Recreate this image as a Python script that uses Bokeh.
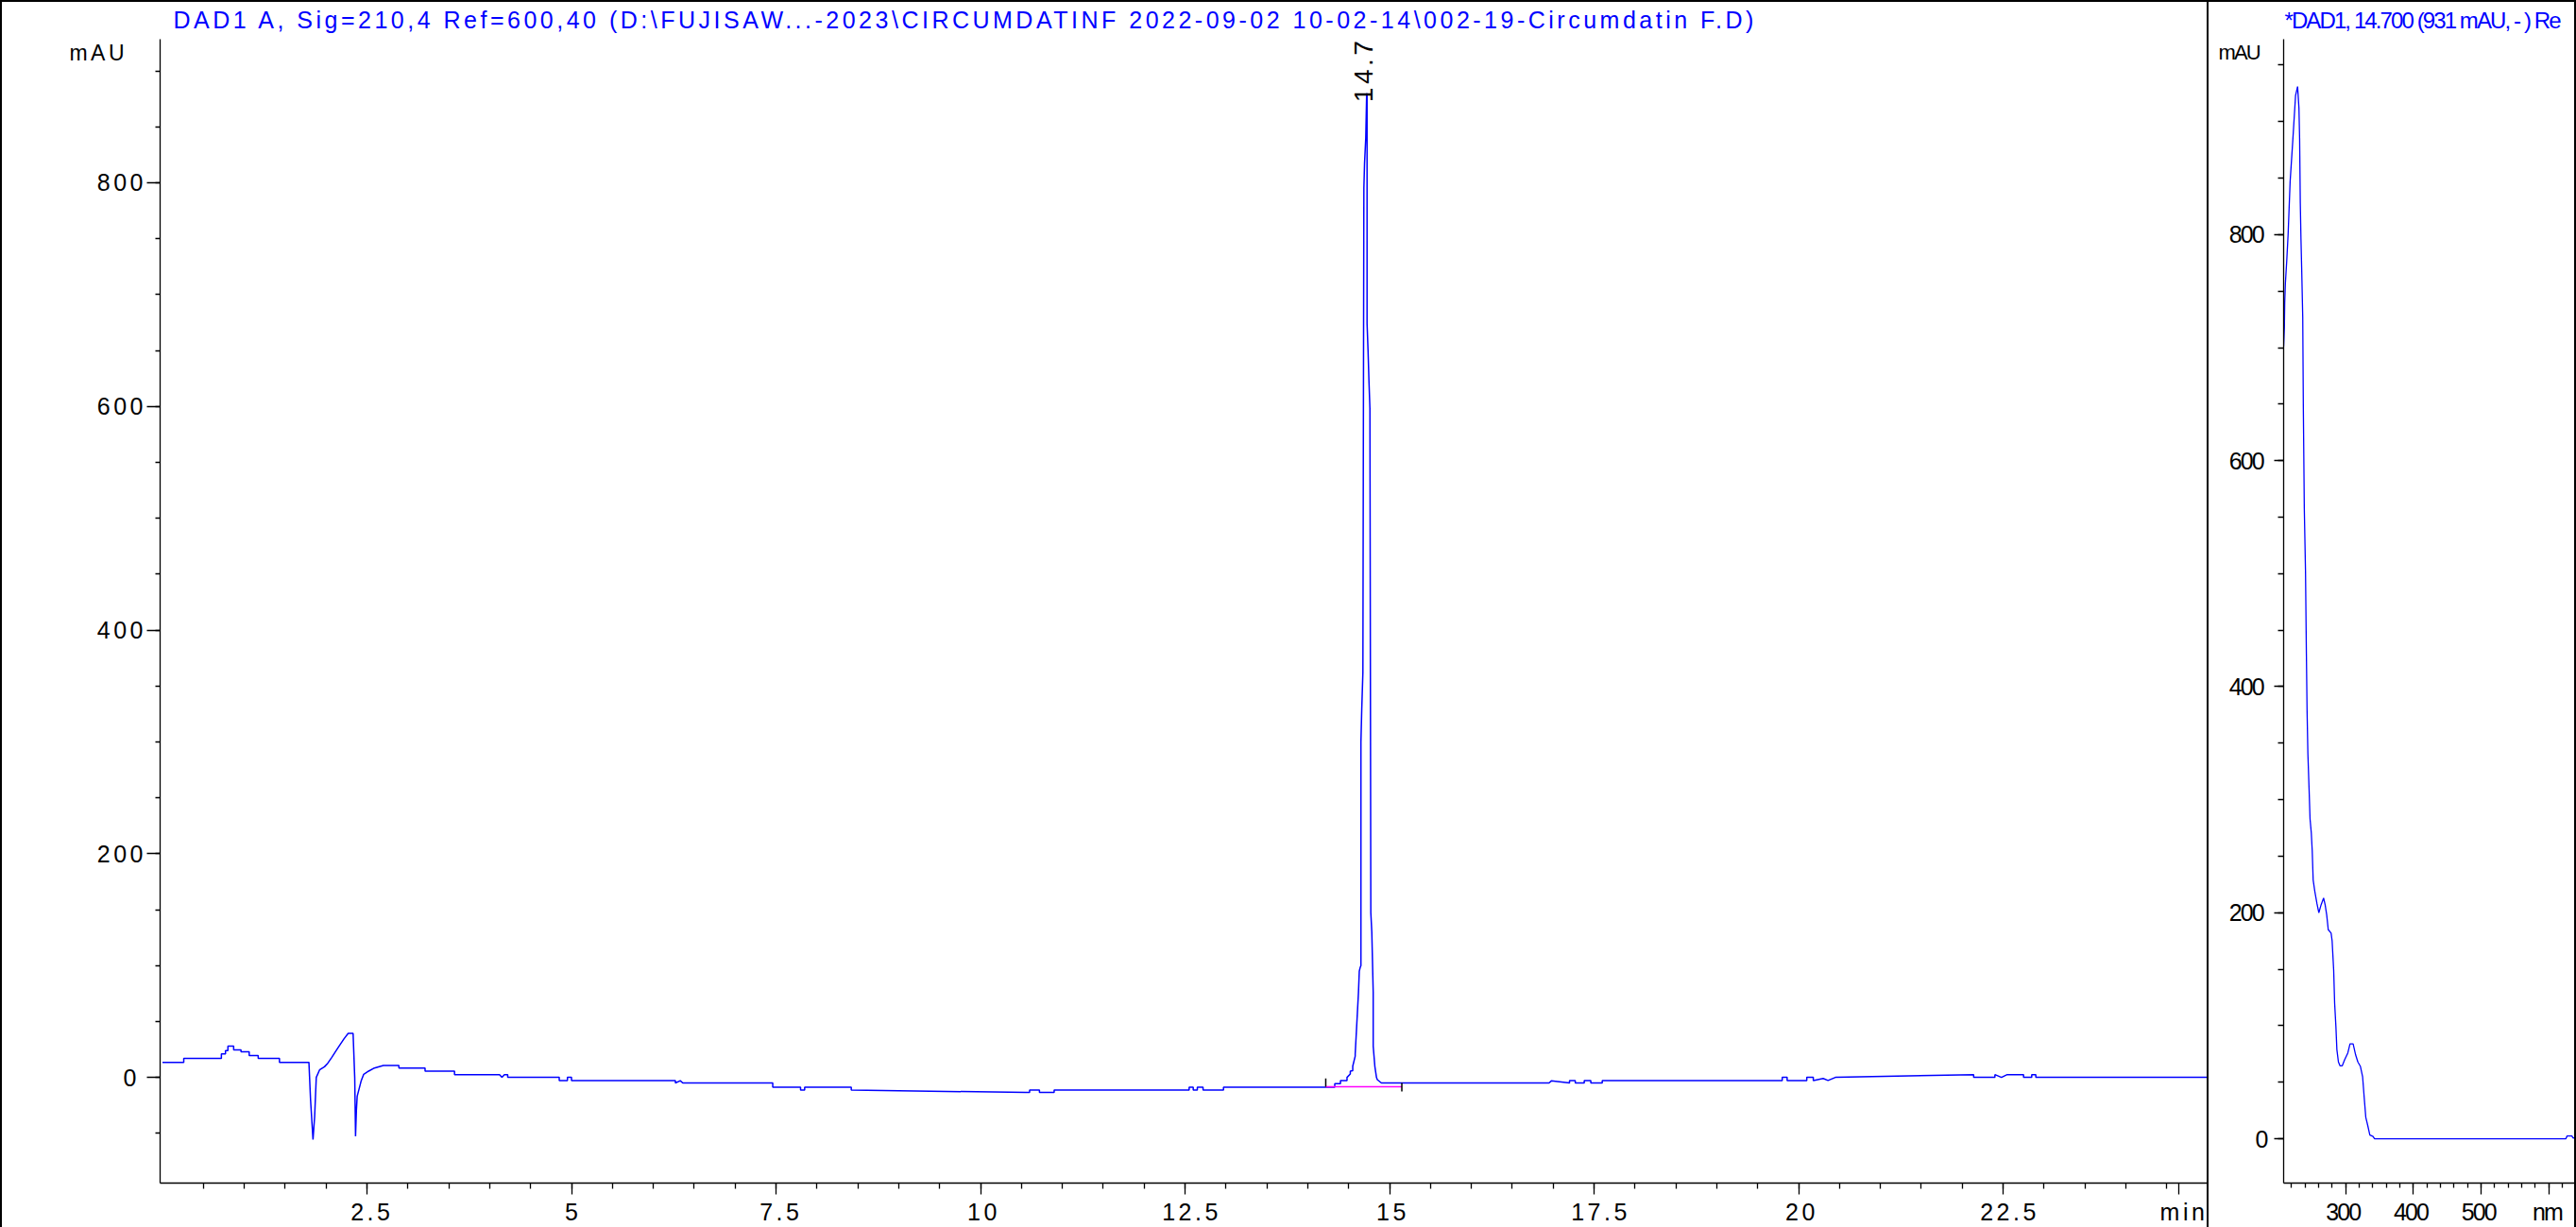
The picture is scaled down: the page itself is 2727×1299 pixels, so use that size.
import math
from bokeh.plotting import figure
from bokeh.models import FixedTicker, CustomJSTickFormatter, Title, LinearAxis, Spacer
from bokeh.layouts import row, column
from bokeh.embed import file_html
from bokeh.resources import INLINE
from bokeh.core.properties import value

# ---------------- data: chromatogram (DAD1 A, 210 nm) ----------------
chrom_time = [0.00, 0.26, 0.26, 0.72, 0.72, 0.77, 0.77, 0.80, 0.80, 0.87, 0.87, 0.96, 0.96,
              1.06, 1.06, 1.17, 1.17, 1.43, 1.43, 1.79, 1.81, 1.84, 1.86, 1.88, 1.92, 1.98,
              2.02, 2.07, 2.12, 2.16, 2.22, 2.27, 2.33, 2.35, 2.36, 2.37, 2.38, 2.43, 2.46,
              2.52, 2.59, 2.70, 2.89, 2.89, 3.21, 3.21, 3.57, 3.57, 4.12, 4.15, 4.18, 4.22,
              4.22, 4.85, 4.85, 4.95, 4.95, 5.00, 5.00, 6.27, 6.27, 6.33, 6.36, 6.40, 7.46,
              7.46, 7.80, 7.80, 7.85, 7.85, 8.42, 8.42, 10.55, 10.60, 10.60, 10.72, 10.72,
              10.90, 10.90, 12.55, 12.55, 12.60, 12.60, 12.65, 12.65, 12.72, 12.72, 12.97,
              12.97, 14.33, 14.33, 14.40, 14.40, 14.48, 14.48, 14.52, 14.52, 14.55, 14.55,
              14.58, 14.58, 14.62, 14.63, 14.64, 14.65, 14.65, 14.66, 14.674, 14.686, 14.694,
              14.709, 14.72, 14.725, 14.725, 14.737, 14.748, 14.76, 14.771, 14.783, 14.80,
              14.80, 14.82, 14.84, 14.85, 14.90, 16.95, 16.98, 17.20, 17.20, 17.27, 17.27,
              17.38, 17.38, 17.46, 17.46, 17.60, 17.60, 19.80, 19.80, 19.86, 19.86, 20.10,
              20.10, 20.18, 20.18, 20.30, 20.36, 20.45, 20.45, 22.14, 22.14, 22.40, 22.40,
              22.48, 22.55, 22.75, 22.75, 22.85, 22.85, 22.90, 22.90, 25.00]
chrom_mau = [13.5, 13.5, 17.0, 17.0, 21.0, 21.0, 24.0, 24.0, 28.0, 28.0, 24.5, 24.5, 23.0,
             23.0, 19.6, 19.6, 17.0, 17.0, 13.5, 13.5, -20.0, -55.6, -35.0, 0.0, 6.7, 9.5,
             12.6, 18.0, 23.6, 28.0, 34.6, 39.4, 39.4, 0.0, -52.6, -30.0, -16.9, -2.8, 2.8,
             5.6, 8.4, 10.7, 10.7, 8.4, 8.4, 5.6, 5.6, 2.5, 2.5, 0.0, 2.5, 2.5,
             0.0, 0.0, -2.8, -2.8, 0.0, 0.0, -2.8, -2.8, -5.0, -3.0, -5.0, -5.0, -5.0,
             -8.7, -8.7, -11.3, -11.3, -8.7, -8.7, -11.3, -13.5, -13.5, -11.3, -11.3, -13.5,
             -13.5, -11.3, -11.3, -8.7, -8.7, -11.3, -11.3, -8.7, -8.7, -11.3,
             -11.3, -8.7, -8.7, -5.6, -5.6, -2.8, -2.8, 0.0, 3.0, 5.6, 6.0, 10.0,
             19.0, 21.0, 76.0, 95.0, 98.0, 100.0, 300.0, 329.0, 362.0, 795.0, 817.0,
             840.0, 880.0, 878.0, 674.0, 650.0, 623.0, 598.0, 147.0, 130.0, 76.0,
             28.0, 10.0, 0.0, -2.0, -5.0, -5.0, -3.0, -5.0, -2.8, -2.8, -5.0,
             -5.0, -2.8, -2.8, -5.0, -5.0, -2.8, -2.8, 0.0, 0.0, -2.8, -2.8,
             0.0, 0.0, -2.8, -1.0, -2.8, 0.0, 0.0, 2.5, 0.0, 0.0, 2.5,
             0.0, 2.5, 2.5, 0.0, 0.0, 2.5, 2.5, 0.0, 0.0, 2.5, 2.5]

peak_time = [14.68]
peak_label_mau = [872.0]
peak_labels = ["14.7"]

# integration baseline (start / end of the peak)
base_time = [14.22, 15.15]
base_mau = [-8.4, -8.4]
tick_mark_time = [14.22, 15.15]
tick_mark_from = [-8.4, -5.0]
tick_mark_to = [-1.0, -12.6]

# ---------------- data: UV spectrum at 14.700 min ----------------
spec_nm = [208.4, 209.5, 210, 211, 213, 215, 218, 222, 226, 229, 231, 232, 233, 234, 235,
           236.6, 237.5, 238.9, 240.7, 242, 243, 244.2, 246, 247.4, 249.2, 250.6, 252,
           254.4, 257.6, 260.4, 263.7, 267.4, 269.7, 272, 274.3, 278.5, 280, 282.3, 283.7,
           285.6, 287, 289.3, 291.6, 295, 298.6, 303.2, 306.4, 311, 314.8, 318, 321.8,
           325, 327.3, 329.7, 332.5, 335.7, 340.4, 342.7, 625, 627, 634, 636, 640]
spec_mau = [701, 718, 740, 757, 777, 800, 847, 884, 923, 931, 912, 885, 828, 796, 771,
            727, 646, 558, 502, 429, 379, 341, 309, 283, 271, 255, 229,
            219, 208, 200, 207, 213, 207, 198, 185, 182, 175, 149, 120,
            99, 79, 68, 64.6, 64.6, 70, 76, 84, 84, 74, 68, 64,
            55, 37, 19, 12, 3.3, 2, 0, 0, 2.5, 2.5, 0.5, 2]

main_title = "DAD1 A, Sig=210,4 Ref=600,40 (D:\\FUJISAW...-2023\\CIRCUMDATINF 2022-09-02 10-02-14\\002-19-Circumdatin F.D)"
spec_title = "*DAD1, 14.700 (931 mAU, - ) Re"

time_major = [2.5, 5, 7.5, 10, 12.5, 15, 17.5, 20, 22.5, 24.65]
time_minor = [0.5 * i for i in range(1, 50)]
mau_major = [0, 200, 400, 600, 800]
mau_minor = [-100 + 50 * i for i in range(21)]
nm_major = [300, 400, 500, 600]
nm_minor = [220 + 20 * i for i in range(21)]
spec_mau_minor = [-50 + 50 * i for i in range(21)]
main_unit_pos = [916]
spec_unit_pos = [961]

BLUE = "#0000ff"
FONT = "Liberation Sans"
BLACK_BOX = {"background-color": "black"}


def style_axes(p, size, xmaj_out, xmin_out, ymaj_out, ymin_out, xstand, ystand):
    for ax in (p.xaxis[0], p.yaxis[0]):
        ax.axis_line_color = "black"
        ax.axis_line_width = 1.3
        ax.major_tick_line_color = "black"
        ax.minor_tick_line_color = "black"
        ax.major_tick_line_width = 1.3
        ax.minor_tick_line_width = 1.3
        ax.major_tick_in = 0
        ax.minor_tick_in = 0
        ax.major_label_text_font = FONT
        ax.major_label_text_font_size = size
        ax.major_label_text_color = "black"
    p.xaxis[0].major_tick_out = xmaj_out
    p.xaxis[0].minor_tick_out = xmin_out
    p.yaxis[0].major_tick_out = ymaj_out
    p.yaxis[0].minor_tick_out = ymin_out
    p.xaxis[0].major_label_standoff = xstand
    p.yaxis[0].major_label_standoff = ystand
    p.xgrid.visible = False
    p.ygrid.visible = False
    p.outline_line_color = None


def unit_axis(pos, size, standoff):
    ax = LinearAxis(ticker=FixedTicker(ticks=pos, minor_ticks=[]),
                    formatter=CustomJSTickFormatter(code="return 'mAU';"))
    ax.axis_line_color = None
    ax.major_tick_line_color = None
    ax.minor_tick_line_color = None
    ax.major_tick_out = 0
    ax.major_tick_in = 0
    ax.minor_tick_out = 0
    ax.minor_tick_in = 0
    ax.major_label_standoff = standoff
    ax.major_label_text_font = FONT
    ax.major_label_text_font_size = size
    ax.major_label_text_color = "black"
    return ax


# ---------------- main chromatogram ----------------
main = figure(width=2334, height=1297, x_range=(-0.029, 24.994), y_range=(-94.5, 928.3),
              output_backend="svg", toolbar_location=None, title_location=None,
              min_border_left=167, min_border_right=0, min_border_top=38,
              styles={"letter-spacing": "3.5px"})
main.xaxis.ticker = FixedTicker(ticks=time_major, minor_ticks=time_minor)
main.xaxis.formatter = CustomJSTickFormatter(code="return tick > 24 ? 'min' : tick.toString();")
main.yaxis.ticker = FixedTicker(ticks=mau_major, minor_ticks=mau_minor)
main.yaxis.formatter = CustomJSTickFormatter(code="return tick.toString();")
style_axes(main, "25px", 12, 6, 14, 5, 4, 11)
main.add_layout(unit_axis(main_unit_pos, "23px", -25), "left")

main.line(chrom_time, chrom_mau, line_color=BLUE, line_width=1.5)
main.line(base_time, base_mau, line_color="#ff00ff", line_width=1.5)
main.segment(x0=tick_mark_time, y0=tick_mark_from, x1=tick_mark_time, y1=tick_mark_to,
             line_color="black", line_width=1.5)
main.text(x=peak_time, y=peak_label_mau, text=peak_labels, angle=math.pi / 2,
          text_align="left", text_baseline="middle", text_color="black",
          text_font=value(FONT), text_font_size="28px")

main.add_layout(Title(text=main_title, align="left", offset=14, vertical_align="top",
                      standoff=9, text_color=BLUE, text_font=FONT, text_font_size="25px",
                      text_font_style="normal"), "above")

# ---------------- UV spectrum ----------------
spec = figure(width=387, height=1297, x_range=(208.4, 638.0), y_range=(-39.2, 972.9),
              output_backend="svg", toolbar_location=None, title_location=None,
              min_border_left=79, min_border_right=0, min_border_top=38,
              styles={"letter-spacing": "-1.9px"})
spec.xaxis.ticker = FixedTicker(ticks=nm_major, minor_ticks=nm_minor)
spec.xaxis.formatter = CustomJSTickFormatter(code="return tick >= 600 ? 'nm' : tick.toString();")
spec.yaxis.ticker = FixedTicker(ticks=mau_major, minor_ticks=spec_mau_minor)
spec.yaxis.formatter = CustomJSTickFormatter(code="return tick.toString();")
style_axes(spec, "25px", 12, 5, 10, 6, 4, 6)
spec.add_layout(unit_axis(spec_unit_pos, "22px", -41), "left")

spec.line(spec_nm, spec_mau, line_color=BLUE, line_width=1.3)

spec.add_layout(Title(text=spec_title, align="left", offset=1, vertical_align="top",
                      standoff=9, text_color=BLUE, text_font=FONT, text_font_size="24px",
                      text_font_style="normal"), "above")

panels = row(Spacer(width=2, height=1297, styles=BLACK_BOX), main,
             Spacer(width=2, height=1297, styles=BLACK_BOX), spec,
             Spacer(width=2, height=1297, styles=BLACK_BOX), spacing=0)
layout = column(Spacer(width=2727, height=2, styles=BLACK_BOX), panels, spacing=0)
open("out.html", "w").write(file_html(layout, INLINE))
